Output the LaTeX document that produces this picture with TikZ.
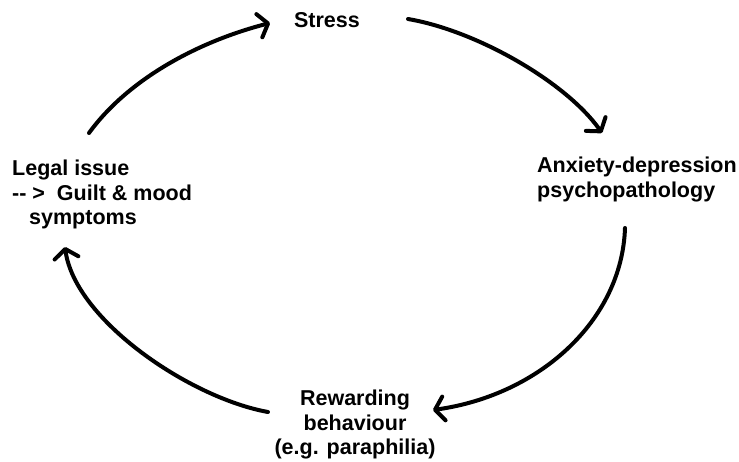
\documentclass[tikz,border=0pt]{standalone}
\usepackage{fontspec}
\setmainfont{Liberation Sans}
\usetikzlibrary{arrows.meta}

\tikzset{
  stage/.style={font=\bfseries\fontsize{21.5}{24.5}\selectfont, inner sep=0pt},
  cyclearrow/.style={line width=4pt, line cap=round,
    -{Straight Barb[length=9pt,width=24pt,line cap=round,line join=round]}}
}

\begin{document}
\begin{tikzpicture}[x=1pt,y=-1pt]
\useasboundingbox (0,0) rectangle (739,461);

\node[stage, anchor=base] (stress) at (327,27) {Stress};
\node[
      stage,
      align=left,
      anchor=north west
] (anxiety) at (537,157) {Anxiety-depression\\psychopathology};
\node[
      stage,
      align=center,
      anchor=north
] (reward) at (355,390) {Rewarding\\behaviour\\(e.g. paraphilia)};
\node[
      stage,
      align=left,
      anchor=north west
] (legal) at (12,160) {Legal issue\\-{}- >\ \ Guilt \& mood\\\hspace{17pt}symptoms};

% free ends of the four arrows
\coordinate (legalout) at (89,133);
\coordinate (stressin) at (270,23);
\coordinate (stressout) at (408,19);
\coordinate (anxin) at (602,133);
\coordinate (anxout) at (625,228);
\coordinate (rewardin) at (433,410);
\coordinate (rewardout) at (268,412);
\coordinate (legalin) at (65,247);

\draw[cyclearrow] (legalout) .. controls (129,78) and (200,41) .. (stressin);
\draw[cyclearrow] (stressout) .. controls (478,31) and (567,83) .. (anxin);
\draw[cyclearrow] (anxout) .. controls (622,320) and (540,395) .. (rewardin);
\draw[cyclearrow] (rewardout) .. controls (190,398) and (75,320) .. (legalin);
\end{tikzpicture}
\end{document}
